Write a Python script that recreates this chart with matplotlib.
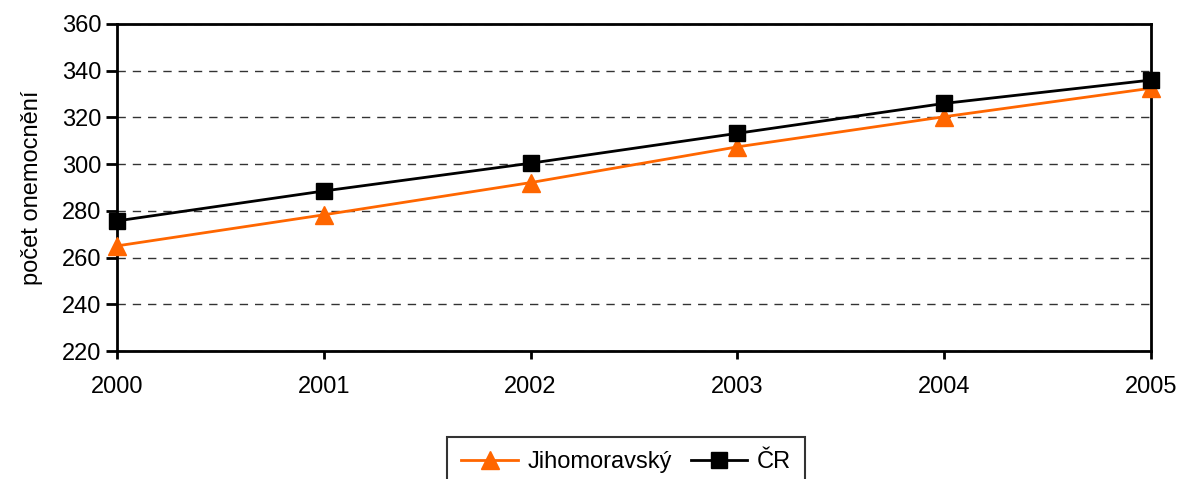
import matplotlib
matplotlib.use("Agg")
import matplotlib.pyplot as plt
from matplotlib import font_manager

years = [2000, 2001, 2002, 2003, 2004, 2005]
jihomoravsky = [265.0, 278.3, 292.1, 307.4, 320.3, 332.5]
cr = [275.7, 288.5, 300.4, 313.2, 326.0, 336.0]
yticks = [220, 240, 260, 280, 300, 320, 340, 360]

names = {f.name for f in font_manager.fontManager.ttflist}
fam = 'Liberation Sans Narrow' if 'Liberation Sans Narrow' in names else 'Liberation Sans'
plt.rcParams['font.family'] = [fam, 'DejaVu Sans']

fig = plt.figure(figsize=(11.8, 4.79), dpi=100)
ax = fig.add_axes([117/1180, 1 - 351/479, (1151-117)/1180, (351-24)/479])

ax.plot(years, jihomoravsky, color='#ff6600', lw=2, marker='^', ms=13,
        markerfacecolor='#ff6600', markeredgecolor='#ff6600', label='Jihomoravský',
        zorder=3, clip_on=False)
ax.plot(years, cr, color='black', lw=2, marker='s', ms=11,
        markerfacecolor='black', markeredgecolor='black', label='ČR',
        zorder=4, clip_on=False)

ax.set_xlim(2000, 2005)
ax.set_ylim(220, 360)
ax.set_yticks(yticks)
ax.set_xticks(years)
ax.yaxis.grid(True, linestyle=(0, (6, 5)), color='#333333', lw=1)
ax.set_axisbelow(True)
for s in ax.spines.values():
    s.set_linewidth(2)
    s.set_color('black')
ax.tick_params(axis='y', direction='out', length=8, width=2, labelsize=17, pad=3)
ax.tick_params(axis='x', direction='out', length=6, width=2, labelsize=17, pad=12)
ax.set_ylabel('počet onemocnění', fontsize=17, labelpad=14)

leg = ax.legend(loc='upper center', bbox_to_anchor=(626/1180, 1 - 437/479), bbox_transform=fig.transFigure,
                ncol=2, frameon=True, fancybox=False, edgecolor='black', fontsize=17,
                handlelength=2.4, columnspacing=0.8, handletextpad=0.4, borderpad=0.6,
                borderaxespad=0)
leg.get_frame().set_linewidth(1.5)

fig.savefig('out.png', dpi=100)
